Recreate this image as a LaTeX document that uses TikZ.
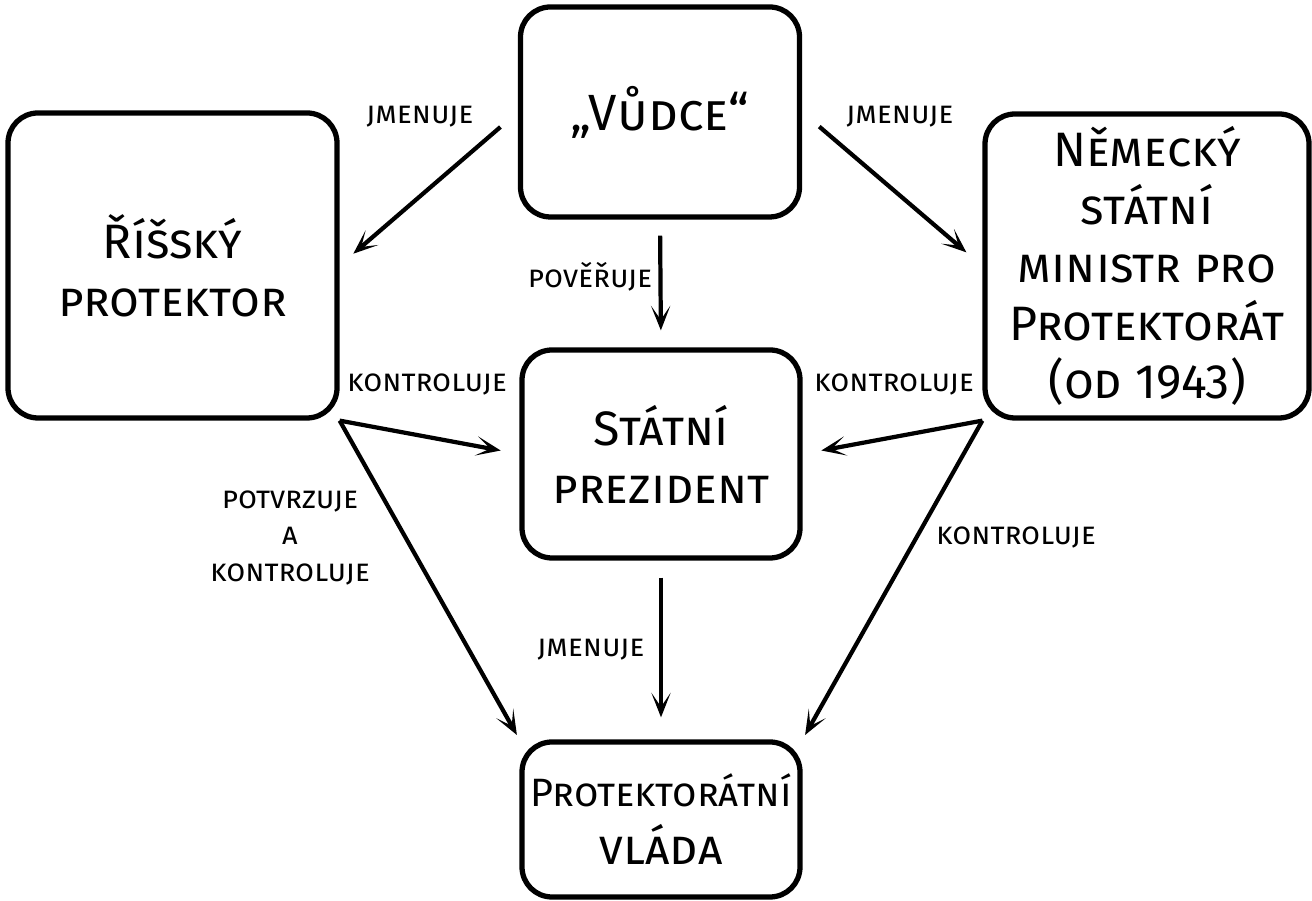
\documentclass[tikz,border=0pt]{standalone}
\usepackage{fontspec}
\setmainfont{Fira Sans}
\usetikzlibrary{arrows.meta}

\begin{document}
\begin{tikzpicture}[
  box/.style={draw, line width=3pt, rounded corners=0.6cm, align=center, inner sep=0pt,
    font=\fontsize{27.5}{33}\selectfont\scshape},
  rel/.style={align=center, font=\fontsize{17.5}{20.5}\selectfont\scshape},
  arr/.style={-{Stealth[length=14pt,width=11pt,inset=8pt]}, line width=2.4pt}
]
\useasboundingbox (0,0) rectangle (26.24,18.02);

% the five offices
\node[box, minimum width=5.58cm, minimum height=4.2cm] (vudce) at (13.2,15.78)
  {\fontsize{29}{36}\selectfont „Vůdce“};
\node[box, minimum width=6.58cm, minimum height=6.1cm] (risske) at (3.45,12.71)
  {Říšský\\protektor};
\node[box, minimum width=6.48cm, minimum height=6.08cm] (nemecky) at (22.94,12.70)
  {Německý\\státní\\ministr pro\\Protektorát\\(od 1943)};
\node[box, minimum width=5.56cm, minimum height=4.16cm] (statni) at (13.22,8.94)
  {Státní\\prezident};
\node[box, minimum width=5.56cm, minimum height=3.1cm] (vlada) at (13.22,1.63)
  {\fontsize{22.5}{28.5}\selectfont Protektorátní\\vláda};

% relations
\draw[arr, shorten <=0.46cm, shorten >=0.36cm] (vudce.west) -- (risske.east);
\draw[arr, shorten <=0.45cm, shorten >=0.42cm] (vudce.east) -- (nemecky.west);
\draw[arr, shorten <=0.32cm, shorten >=0.34cm] (vudce.south) -- (statni.north);
\draw[arr, shorten <=0.34cm, shorten >=0.44cm] (statni.south) -- (vlada.north);
\draw[arr, shorten >=0.38cm] (risske.south east) -- (statni.west);
\draw[arr, shorten >=0.1cm] (risske.south east) -- (vlada.north west);
\draw[arr, shorten >=0.38cm] (nemecky.south west) -- (statni.east);
\draw[arr, shorten >=0.1cm] (nemecky.south west) -- (vlada.north east);

\node[rel] (jmen1) at (8.4,15.68) {jmenuje};
\node[rel] (jmen2) at (18.0,15.68) {jmenuje};
\node[rel] (pover) at (11.8,12.48) {pověřuje};
\node[rel] (kontr1) at (8.54,10.32) {kontroluje};
\node[rel] (kontr2) at (17.88,10.32) {kontroluje};
\node[rel] (potvr) at (5.8,7.26) {potvrzuje\\a\\kontroluje};
\node[rel] (jmen3) at (11.82,5.02) {jmenuje};
\node[rel] (kontr3) at (20.32,7.26) {kontroluje};
\end{tikzpicture}
\end{document}
